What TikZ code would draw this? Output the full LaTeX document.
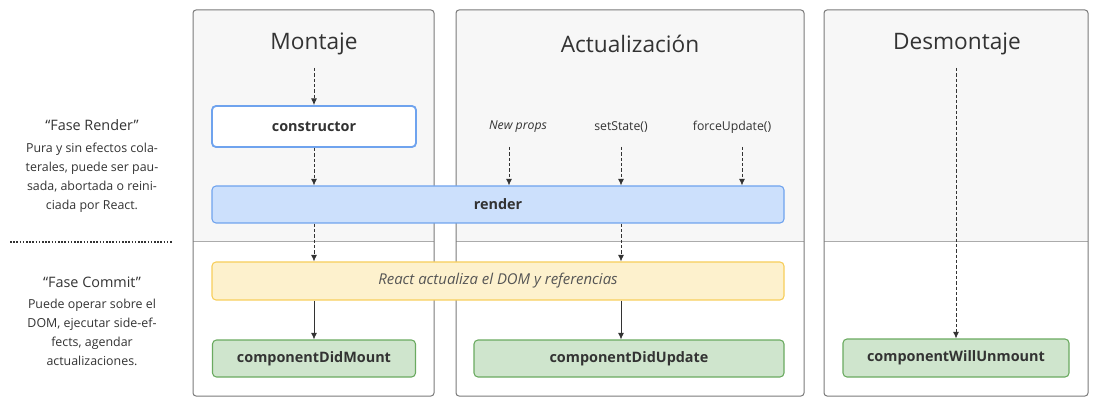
\documentclass[tikz,border=0pt]{standalone}
\usepackage{fontspec}
\setmainfont{Open Sans}
\usepackage{xcolor}
\usetikzlibrary{arrows.meta}

\definecolor{txt}{HTML}{333333}
\definecolor{softtxt}{HTML}{555555}
\definecolor{panelgray}{HTML}{F7F7F7}
\definecolor{panelline}{HTML}{7A7A7A}
\definecolor{divline}{HTML}{ABABAB}
\definecolor{blueline}{HTML}{6FA3EE}
\definecolor{bluefill}{HTML}{CCE0FC}
\definecolor{yellowline}{HTML}{F7CE5B}
\definecolor{yellowfill}{HTML}{FDF1CD}
\definecolor{greenline}{HTML}{6AAA60}
\definecolor{greenfill}{HTML}{CFE5CD}

\begin{document}
\begin{tikzpicture}[x=0.75pt, y=-0.75pt,
  panel/.style={draw=panelline, line width=0.75pt, rounded corners=2.25pt},
  title/.style={text=txt, font=\fontsize{17}{20}\selectfont},
  box/.style={rounded corners=3pt, line width=0.8pt, text=txt, inner sep=0pt,
    font=\bfseries\fontsize{10.8}{12}\selectfont},
  ctorbox/.style={box, draw=blueline, fill=white, line width=1.4pt},
  renderbox/.style={box, draw=blueline, fill=bluefill},
  dombox/.style={box, draw=yellowline, fill=yellowfill,
    font=\itshape\fontsize{11.2}{13}\selectfont, text=softtxt},
  didbox/.style={box, draw=greenline, fill=greenfill},
  trigger/.style={text=txt, font=\fontsize{9.2}{11}\selectfont},
  phase/.style={text=txt, font=\fontsize{10.8}{13}\selectfont},
  phasetext/.style={text=txt, align=center, inner sep=0pt,
    font=\fontsize{9.3}{14.25}\selectfont},
  flow/.style={-{Latex[length=5pt,width=4.5pt]}, txt, line width=0.6pt},
  dflow/.style={flow, dash pattern=on 2.5pt off 1.5pt}
]

\useasboundingbox (0,0) rectangle (1097,406);

% panels
\fill[panelgray, rounded corners=2.25pt] (193,242) [sharp corners]-- (193,10) [rounded corners=2.25pt]-- (434,10) -- (434,242) [sharp corners]-- cycle;
\fill[panelgray, rounded corners=2.25pt] (456,242) [sharp corners]-- (456,10) [rounded corners=2.25pt]-- (804,10) -- (804,242) [sharp corners]-- cycle;
\fill[panelgray, rounded corners=2.25pt] (824,242) [sharp corners]-- (824,10) [rounded corners=2.25pt]-- (1088,10) -- (1088,242) [sharp corners]-- cycle;

\draw[divline, line width=0.75pt] (193,242) -- (434,242);
\draw[divline, line width=0.75pt] (456,242) -- (804,242);
\draw[divline, line width=0.75pt] (824,242) -- (1088,242);

\draw[panel] (193,10) rectangle (434,396);
\draw[panel] (456,10) rectangle (804,396);
\draw[panel] (824,10) rectangle (1088,396);

% titles
\node[title] (montaje) at (314,44) {Montaje};
\node[title] (actualizacion) at (630,44) {Actualización};
\node[title] (desmontaje) at (957,44) {Desmontaje};

% boxes
\node[ctorbox, minimum width=153pt, minimum height=30.75pt] (constructor) at (314,126.5) {constructor};
\node[renderbox, minimum width=429pt, minimum height=27.75pt] (render) at (498,204.5) {render};
\node[dombox, minimum width=429pt, minimum height=28.5pt] (dom) at (498,281) {React actualiza el DOM y referencias};
\node[didbox, minimum width=152.25pt, minimum height=27.75pt] (didmount) at (314,358.5) {componentDidMount};
\node[didbox, minimum width=232.5pt, minimum height=27.75pt] (didupdate) at (629,358.5) {componentDidUpdate};
\node[didbox, minimum width=169.5pt, minimum height=28.5pt] (willunmount) at (956,358) {componentWillUnmount};

% triggers
\node[trigger] (newprops) at (518,127) {\itshape New props};
\node[trigger] (setstate) at (621,127) {setState()};
\node[trigger] (forceupdate) at (732,127) {forceUpdate()};

\coordinate (mstart) at (314,68);
\coordinate (dstart) at (956,68);
\coordinate (npstart) at (509,147);
\coordinate (ssstart) at (621,147);
\coordinate (fustart) at (742,147);

% arrows
\draw[dflow] (mstart) -- (constructor.north);
\draw[dflow] (constructor.south) -- (constructor.south |- render.north);
\draw[dflow] (constructor.south |- render.south) -- (constructor.south |- dom.north);
\draw[flow] (constructor.south |- dom.south) -- (didmount.north);

\draw[dflow] (npstart) -- (npstart |- render.north);
\draw[dflow] (ssstart) -- (ssstart |- render.north);
\draw[dflow] (fustart) -- (fustart |- render.north);
\draw[dflow] (ssstart |- render.south) -- (ssstart |- dom.north);
\draw[flow] (ssstart |- dom.south) -- (ssstart |- didupdate.north);

\draw[dflow] (dstart) -- (willunmount.north);

% phases
\node[phase] (renderphase) at (92,125) {“Fase Render”};
\node[phasetext, anchor=north] (renderdesc) at (92,143)
{Pura y sin efectos cola-\\terales, puede ser pau-\\sada, abortada o reini-\\ciada por React.};

\draw[txt, line width=1.6pt, dash pattern=on 1.2pt off 1.2pt] (10,242) -- (173,242);

\node[phase] (commitphase) at (92,282) {“Fase Commit”};
\node[phasetext, anchor=north] (commitdesc) at (92,299)
{Puede operar sobre el\\DOM, ejecutar side-ef-\\fects, agendar\\actualizaciones.};

\end{tikzpicture}
\end{document}
